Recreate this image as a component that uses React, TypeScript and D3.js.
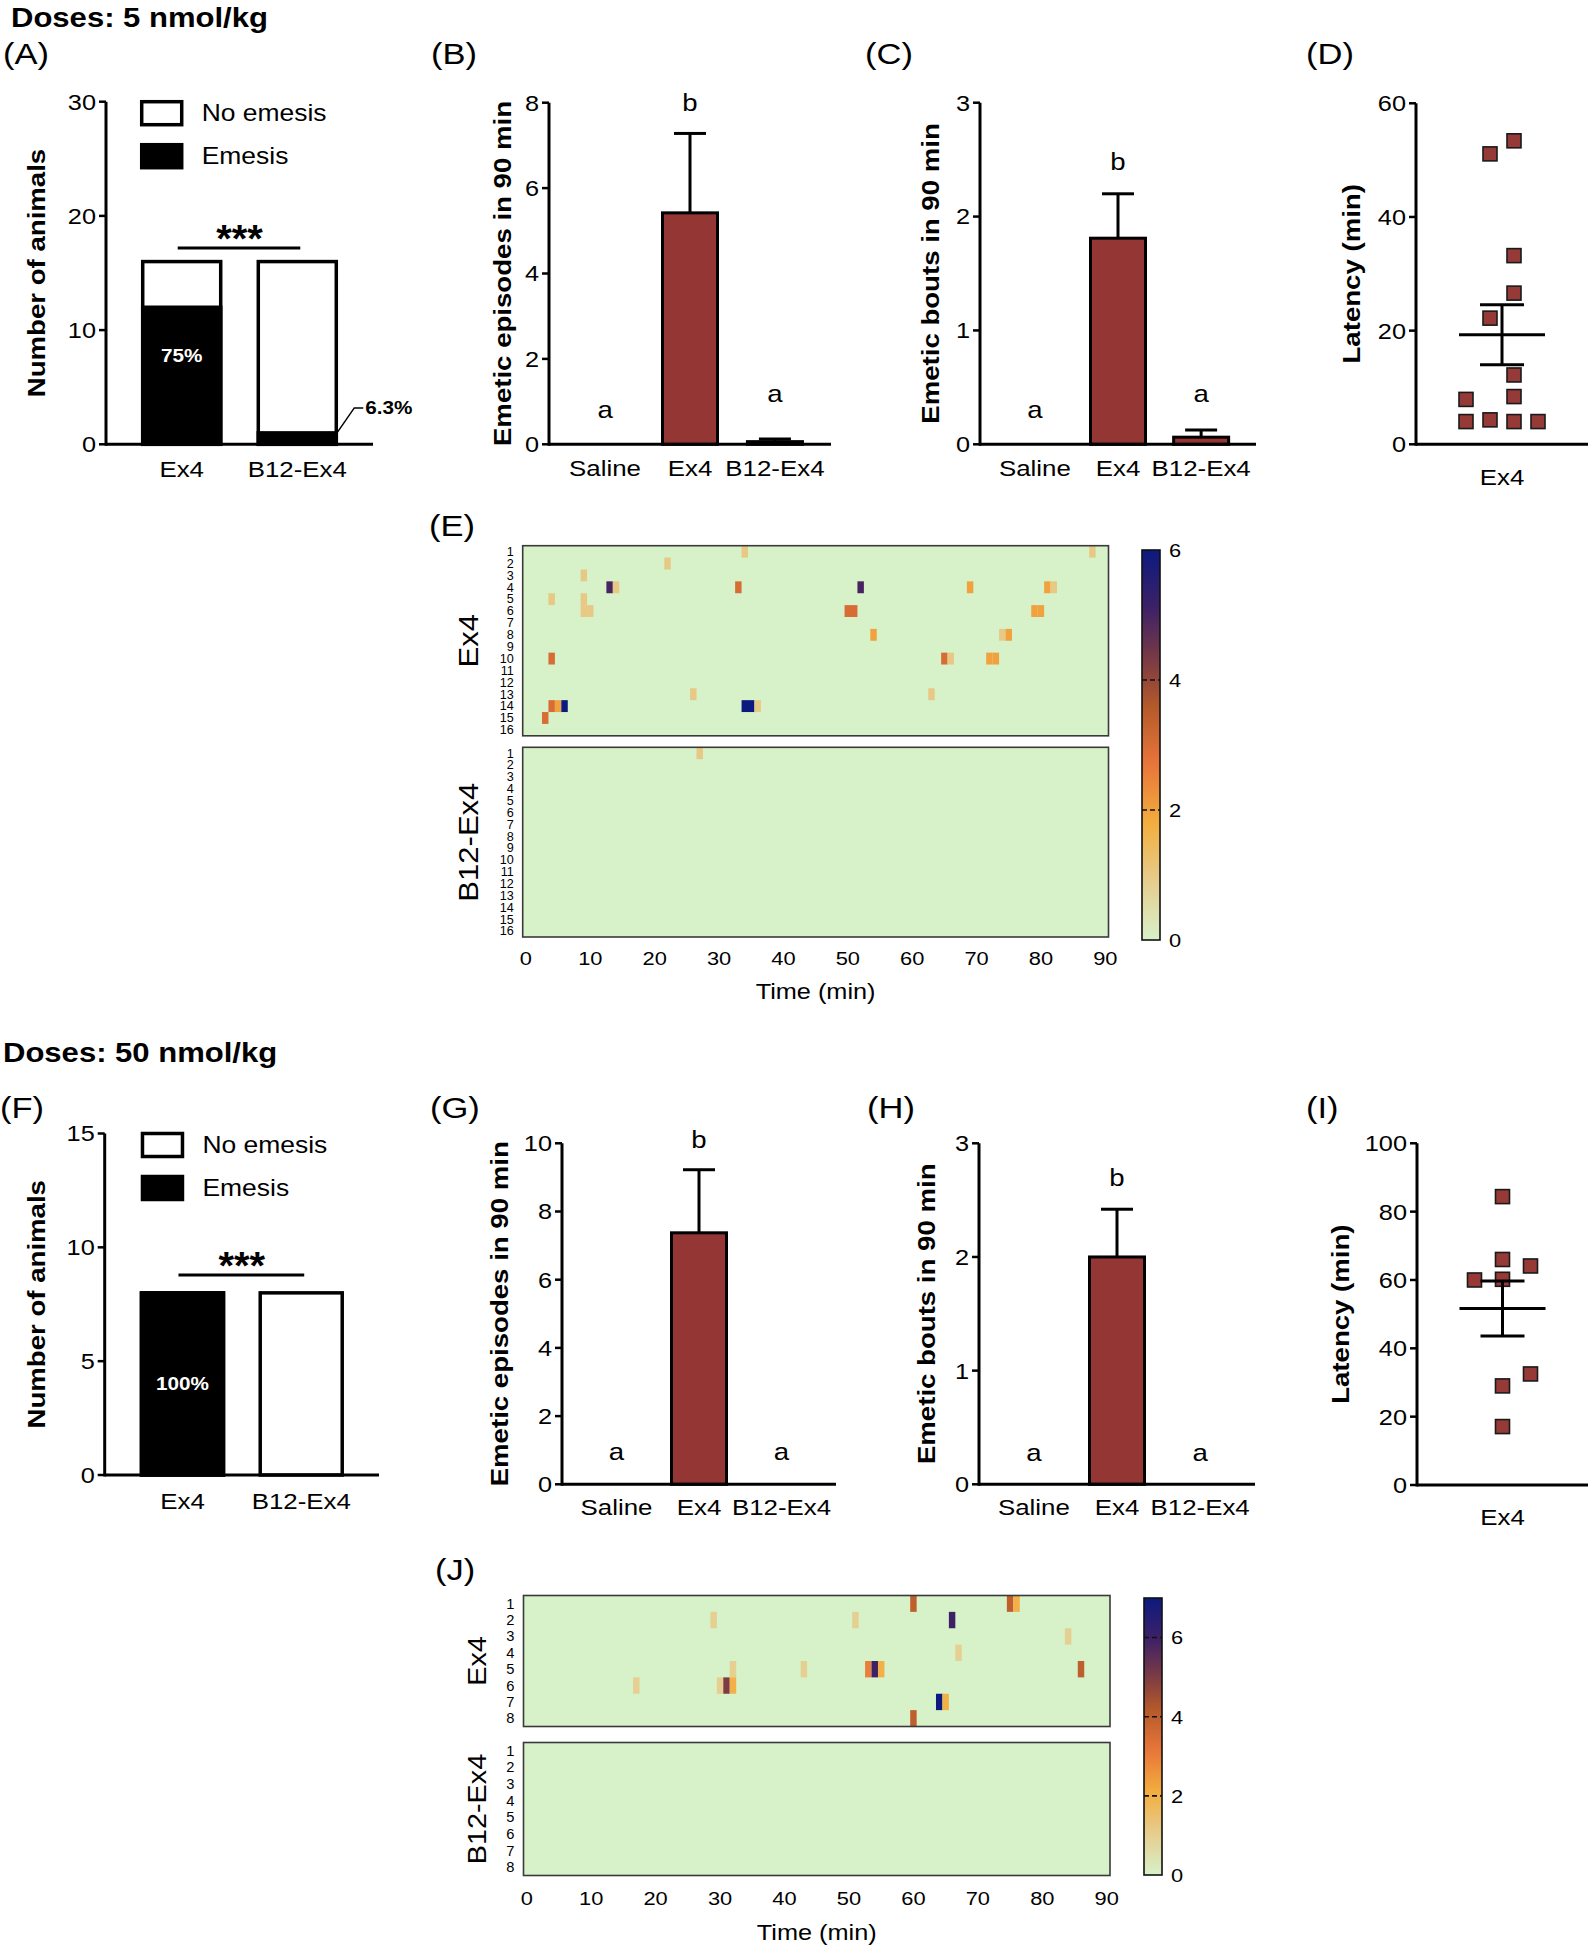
import React from "react";
import * as d3 from "d3";

const FONT = "'Liberation Sans', Arial, Helvetica, sans-serif";
const SX = 1.15;
const BAR = "#943634";

// ---------------- data ----------------
const outcomeGroups = ["Ex4", "B12-Ex4"];
const treatGroups = ["Saline", "Ex4", "B12-Ex4"];
const sigLetters = ["a", "b", "a"];

// 5 nmol/kg
const totalAnimals5 = [16, 16];
const emesisAnimals5 = [12, 1];
const emesisPct5 = ["75%", "6.3%"];
const episodes5 = [0, 5.42, 0.0625];
const episodes5Sem = [0, 1.86, 0.0625];
const episodes5LetterAt = [0.62, 7.8, 0.99];
const bouts5 = [0, 1.81, 0.0625];
const bouts5Sem = [0, 0.39, 0.0625];
const bouts5LetterAt = [0.23, 2.41, 0.37];
const latency5 = [51.1, 53.4, 33.2, 26.6, 22.2, 12.2, 8.4, 7.9, 4.0, 4.3, 4.0, 4.0];
const latency5Slot = [-0.5, 0.5, 0.5, 0.5, -0.5, 0.5, 0.5, -1.5, -1.5, -0.5, 0.5, 1.5];

// 50 nmol/kg
const totalAnimals50 = [8, 8];
const emesisAnimals50 = [8, 0];
const emesisPct50 = ["100%", ""];
const episodes50 = [0, 7.375, 0];
const episodes50Sem = [0, 1.85, 0];
const episodes50LetterAt = [0.71, 9.86, 0.71];
const bouts50 = [0, 2.0, 0];
const bouts50Sem = [0, 0.42, 0];
const bouts50LetterAt = [0.205, 2.62, 0.205];
const latency50 = [84.4, 66.0, 64.1, 60.0, 60.2, 32.5, 29.0, 17.1];
const latency50Slot = [0, 0, 1, -1, 0, 1, 0, 0];

// heatmap events: [animal, minute, episodes]
const heat5Ex4 = [
  [1, 34, 1], [1, 88, 1], [2, 22, 1], [3, 9, 1],
  [4, 13, 5], [4, 14, 1], [4, 33, 3], [4, 52, 5], [4, 69, 2], [4, 81, 2], [4, 82, 1],
  [5, 4, 1], [5, 9, 1],
  [6, 9, 1], [6, 10, 1], [6, 50, 3], [6, 51, 3], [6, 79, 2], [6, 80, 2],
  [8, 54, 2], [8, 74, 1], [8, 75, 2],
  [10, 4, 3], [10, 65, 3], [10, 66, 1], [10, 72, 2], [10, 73, 2],
  [13, 26, 1], [13, 63, 1],
  [14, 4, 3], [14, 5, 2], [14, 6, 6], [14, 34, 6], [14, 35, 6], [14, 36, 1],
  [15, 3, 3],
];
const heat5B12 = [[1, 27, 1]];
const heat50Ex4 = [
  [1, 60, 4], [1, 75, 4], [1, 76, 2],
  [2, 29, 1], [2, 51, 1], [2, 66, 6],
  [3, 84, 1], [4, 67, 1],
  [5, 32, 1], [5, 43, 1], [5, 53, 3], [5, 54, 6], [5, 55, 2], [5, 86, 4],
  [6, 17, 1], [6, 30, 1], [6, 31, 5], [6, 32, 2],
  [7, 64, 7], [7, 65, 2],
  [8, 60, 4],
];
const heat50B12: number[][] = [];
const timeTicks = [0, 10, 20, 30, 40, 50, 60, 70, 80, 90];

const cmapStops = [0, 0.15, 0.3, 0.45, 0.6, 0.72, 0.85, 1];
const cmapColors = ["#d7f1c9", "#e6cd8e", "#f3ad3e", "#e8763a", "#b4592a", "#7a3a44", "#3e2166", "#0c1a80"];
const cmap = d3.scaleLinear<string>().domain(cmapStops).range(cmapColors).interpolate(d3.interpolateRgb).clamp(true);

// ---------------- helpers ----------------
function T({ x, y, s, w, a, r, fill, children, dy, sx }: any) {
  const tr = `translate(${x},${y})` + (r ? ` rotate(${r})` : "") + ` scale(${sx ?? SX},1)`;
  return (
    <text transform={tr} fontSize={s} fontWeight={w ?? "normal"} textAnchor={a ?? "start"} fill={fill ?? "#000"} fontFamily={FONT} dy={dy}>
      {children}
    </text>
  );
}

function YAxis({ x, y, ticks, fs = 22 }: any) {
  const [r0, r1] = y.range();
  return (
    <g>
      <line x1={x} x2={x} y1={r0 + 1.5} y2={r1} stroke="#000" strokeWidth={3} />
      {ticks.map((t: number) => (
        <g key={t}>
          <line x1={x - 7} x2={x} y1={y(t)} y2={y(t)} stroke="#000" strokeWidth={2.5} />
          <T x={x - 10} y={y(t)} s={fs} a="end" dy="0.36em">{t}</T>
        </g>
      ))}
    </g>
  );
}

function YTitle({ cx, cy, text }: any) {
  return <T x={cx + 8.5} y={cy} s={24} w="bold" a="middle" r={-90}>{text}</T>;
}

function BarPanel({ axX, axEnd, y0, y1, max, ticks, means, sems, letterAt, title, titleX, labelBase }: any) {
  const y = d3.scaleLinear().domain([0, max]).range([y0, y1]);
  const x = d3.scalePoint<string>().domain(treatGroups).range([axX, axEnd]).padding(0.66);
  const bw = 55;
  return (
    <g>
      {treatGroups.map((g, i) => {
        const cx = x(g)!;
        const m = means[i];
        const e = sems[i];
        return (
          <g key={g}>
            {m > 0 && (
              <rect x={cx - bw / 2} y={y(m)} width={bw} height={y(0) - y(m)} fill={BAR} stroke="#000" strokeWidth={3} />
            )}
            {e > 0 && (
              <g stroke="#000" strokeWidth={3}>
                <line x1={cx} x2={cx} y1={y(m)} y2={y(m + e)} />
                <line x1={cx - 16} x2={cx + 16} y1={y(m + e)} y2={y(m + e)} />
              </g>
            )}
            <T x={cx} y={y(letterAt[i])} s={24} a="middle">{sigLetters[i]}</T>
            <T x={cx} y={labelBase} s={22.5} a="middle">{g}</T>
          </g>
        );
      })}
      <line x1={axX} x2={axEnd} y1={y0} y2={y0} stroke="#000" strokeWidth={3} />
      <YAxis x={axX} y={y} ticks={ticks} />
      <YTitle cx={titleX} cy={(y0 + y1) / 2} text={title} />
    </g>
  );
}

function StackPanel({ axX, axEnd, y0, y1, max, ticks, total, emesis, pct, bw, pctAt, sigVal, labelBase, titleX }: any) {
  const y = d3.scaleLinear().domain([0, max]).range([y0, y1]);
  const x = d3.scalePoint<string>().domain(outcomeGroups).range([axX, axEnd]).padding(0.655);
  const c0 = x(outcomeGroups[0])!;
  const c1 = x(outcomeGroups[1])!;
  const legTop = y(max);
  return (
    <g>
      {outcomeGroups.map((g, i) => {
        const cx = x(g)!;
        return (
          <g key={g}>
            <rect x={cx - bw / 2} y={y(total[i])} width={bw} height={y(0) - y(total[i])} fill="#fff" stroke="#000" strokeWidth={3.5} />
            {emesis[i] > 0 && (
              <rect x={cx - bw / 2} y={y(emesis[i])} width={bw} height={y(0) - y(emesis[i])} fill="#000" stroke="#000" strokeWidth={3.5} />
            )}
            <T x={cx} y={labelBase} s={22.5} a="middle">{g}</T>
          </g>
        );
      })}
      {pct[0] && (
        <T x={c0} y={y(emesis[0] * pctAt)} s={18} w="bold" a="middle" fill="#fff" dy="0.36em">{pct[0]}</T>
      )}
      {pct[1] && (
        <g>
          <polyline
            points={`${c1 + bw / 2},${y(emesis[1]) + 1} ${c1 + bw / 2 + 18},${y(emesis[1]) - 25} ${c1 + bw / 2 + 27},${y(emesis[1]) - 25}`}
            fill="none" stroke="#000" strokeWidth={1.5}
          />
          <T x={c1 + bw / 2 + 29} y={y(emesis[1]) - 25} s={18} w="bold" dy="0.36em">{pct[1]}</T>
        </g>
      )}
      <line x1={c0 - 4} x2={c1 + 3} y1={y(sigVal)} y2={y(sigVal)} stroke="#000" strokeWidth={3} />
      <T x={(c0 + c1) / 2} y={y(sigVal) + 4} s={38} w="bold" a="middle" sx={1.05}>***</T>
      {/* legend */}
      <rect x={c0 - 40} y={legTop} width={40} height={23} fill="#fff" stroke="#000" strokeWidth={3.5} />
      <T x={c0 + 20} y={legTop + 11.5} s={23} dy="0.36em">No emesis</T>
      <rect x={c0 - 40} y={legTop + 43} width={40} height={23} fill="#000" stroke="#000" strokeWidth={3.5} />
      <T x={c0 + 20} y={legTop + 54.5} s={23} dy="0.36em">Emesis</T>
      <line x1={axX} x2={axEnd} y1={y0} y2={y0} stroke="#000" strokeWidth={3} />
      <YAxis x={axX} y={y} ticks={ticks} />
      <YTitle cx={titleX} cy={(y0 + y1) / 2} text="Number of animals" />
    </g>
  );
}

function DotPanel({ axX, axEnd, y0, y1, max, ticks, values, slots, slotW, labelBase, titleX }: any) {
  const y = d3.scaleLinear().domain([0, max]).range([y0, y1]);
  const x = d3.scalePoint<string>().domain(["Ex4"]).range([axX, axEnd]).padding(0.5);
  const cx = x("Ex4")!;
  const jit = d3.scaleLinear().domain([-1, 1]).range([cx - slotW, cx + slotW]);
  const mean = d3.mean(values) as number;
  const sem = (d3.deviation(values) as number) / Math.sqrt(values.length);
  const sq = 14;
  return (
    <g>
      {values.map((v: number, i: number) => (
        <rect key={i} x={jit(slots[i]) - sq / 2} y={y(v) - sq / 2} width={sq} height={sq} fill="#963a37" stroke="#1a1a1a" strokeWidth={1.6} />
      ))}
      <g stroke="#000" strokeWidth={3}>
        <line x1={cx - 43} x2={cx + 43} y1={y(mean)} y2={y(mean)} />
        <line x1={cx} x2={cx} y1={y(mean - sem)} y2={y(mean + sem)} />
        <line x1={cx - 22} x2={cx + 22} y1={y(mean - sem)} y2={y(mean - sem)} />
        <line x1={cx - 22} x2={cx + 22} y1={y(mean + sem)} y2={y(mean + sem)} />
      </g>
      <line x1={axX} x2={axEnd} y1={y0} y2={y0} stroke="#000" strokeWidth={3} />
      <YAxis x={axX} y={y} ticks={ticks} />
      <T x={cx} y={labelBase} s={22.5} a="middle">Ex4</T>
      <YTitle cx={titleX} cy={(y0 + y1) / 2} text="Latency (min)" />
    </g>
  );
}

function Heatmap({ id, left, right, blocks, vmax, cbX, cbTop, cbBottom, cbTicks, tickY, titleY, groupX, rowFs, groupFs }: any) {
  const x = d3.scaleLinear().domain([-0.5, 90.5]).range([left, right]);
  const cb = d3.scaleLinear().domain([0, vmax]).range([cbBottom, cbTop]);
  const gradStops = d3.range(0, 1.0001, 0.05);
  return (
    <g>
      {blocks.map((b: any) => {
        const rows = d3.range(1, b.n + 1);
        const y = d3.scaleBand<number>().domain(rows).range([b.top, b.bottom]);
        return (
          <g key={b.name}>
            <rect x={left} y={b.top} width={right - left} height={b.bottom - b.top} fill={cmap(0)} />
            {b.events.map((ev: number[], i: number) => (
              <rect key={i} x={x(ev[1] - 0.5)} y={y(ev[0])!} width={x(ev[1] + 0.5) - x(ev[1] - 0.5)} height={y.bandwidth()} fill={cmap(ev[2] / vmax)} />
            ))}
            <rect x={left} y={b.top} width={right - left} height={b.bottom - b.top} fill="none" stroke="#3a3a3a" strokeWidth={1.6} />
            {rows.map((r) => (
              <T key={r} x={left - 9} y={y(r)! + y.bandwidth() / 2} s={rowFs} a="end" dy="0.36em" sx={1.05}>{r}</T>
            ))}
            <T x={groupX} y={(b.top + b.bottom) / 2} s={groupFs} a="middle" r={-90}>{b.name}</T>
          </g>
        );
      })}
      {timeTicks.map((t) => (
        <T key={t} x={x(t)} y={tickY} s={19} a="middle" dy="0.36em">{t}</T>
      ))}
      <T x={x(45)} y={titleY} s={22} a="middle" dy="0.36em">Time (min)</T>
      <defs>
        <linearGradient id={id} x1="0" y1="1" x2="0" y2="0">
          {gradStops.map((t) => (
            <stop key={t} offset={t} stopColor={cmap(t)} />
          ))}
        </linearGradient>
      </defs>
      <rect x={cbX} y={cbTop} width={18} height={cbBottom - cbTop} fill={`url(#${id})`} stroke="#111" strokeWidth={1.6} />
      {cbTicks.map((t: number) => (
        <g key={t}>
          {t > 0 && t < vmax && (
            <line x1={cbX} x2={cbX + 18} y1={cb(t)} y2={cb(t)} stroke="#111" strokeWidth={1.6} strokeDasharray="5,3" />
          )}
          <T x={cbX + 27} y={cb(t)} s={19} dy="0.36em">{t}</T>
        </g>
      ))}
    </g>
  );
}

export default function App() {
  return (
    <svg width={1593} height={1950} style={{ position: "absolute", left: 0, top: 0, background: "#fff" }}>
      <rect x={0} y={0} width={1593} height={1950} fill="#fff" />
      {/* ---------- 5 nmol/kg ---------- */}
      <T x={11} y={27} s={27} w="bold">Doses: 5 nmol/kg</T>
      <T x={3} y={64} s={30}>(A)</T>
      <T x={431} y={64} s={30}>(B)</T>
      <T x={865} y={64} s={30}>(C)</T>
      <T x={1306} y={64} s={30}>(D)</T>
      <StackPanel axX={106} axEnd={373} y0={444.3} y1={101.7} max={30} ticks={[0, 10, 20, 30]}
        total={totalAnimals5} emesis={emesisAnimals5} pct={emesisPct5} bw={78} pctAt={0.65} sigVal={17.2}
        labelBase={477} titleX={36.5} />
      <BarPanel axX={549} axEnd={831} y0={444.3} y1={102.7} max={8} ticks={[0, 2, 4, 6, 8]}
        means={episodes5} sems={episodes5Sem} letterAt={episodes5LetterAt} title="Emetic episodes in 90 min" titleX={502.5} labelBase={476} />
      <BarPanel axX={980} axEnd={1256} y0={444.3} y1={102.7} max={3} ticks={[0, 1, 2, 3]}
        means={bouts5} sems={bouts5Sem} letterAt={bouts5LetterAt} title="Emetic bouts in 90 min" titleX={930} labelBase={476} />
      <DotPanel axX={1416} axEnd={1588} y0={444.3} y1={103.3} max={60} ticks={[0, 20, 40, 60]}
        values={latency5} slots={latency5Slot} slotW={24} labelBase={485} titleX={1351.5} />

      <T x={429} y={536} s={30}>(E)</T>
      <Heatmap id="cbE" left={522.7} right={1108.5} vmax={6} cbX={1142} cbTop={550} cbBottom={940}
        cbTicks={[0, 2, 4, 6]} tickY={958} titleY={991} groupX={478} rowFs={12} groupFs={27}
        blocks={[
          { name: "Ex4", n: 16, events: heat5Ex4, top: 545.7, bottom: 735.8 },
          { name: "B12-Ex4", n: 16, events: heat5B12, top: 747.3, bottom: 937 },
        ]} />

      {/* ---------- 50 nmol/kg ---------- */}
      <T x={3} y={1062} s={27} w="bold">Doses: 50 nmol/kg</T>
      <T x={0} y={1118} s={30}>(F)</T>
      <T x={430} y={1118} s={30}>(G)</T>
      <T x={867} y={1118} s={30}>(H)</T>
      <T x={1306} y={1118} s={30}>(I)</T>
      <StackPanel axX={104.7} axEnd={379} y0={1475} y1={1133.5} max={15} ticks={[0, 5, 10, 15]}
        total={totalAnimals50} emesis={emesisAnimals50} pct={emesisPct50} bw={82} pctAt={0.5} sigVal={8.78}
        labelBase={1509} titleX={36} />
      <BarPanel axX={562} axEnd={836} y0={1484.3} y1={1143.3} max={10} ticks={[0, 2, 4, 6, 8, 10]}
        means={episodes50} sems={episodes50Sem} letterAt={episodes50LetterAt} title="Emetic episodes in 90 min" titleX={499} labelBase={1515} />
      <BarPanel axX={979} axEnd={1255} y0={1484.3} y1={1143.3} max={3} ticks={[0, 1, 2, 3]}
        means={bouts50} sems={bouts50Sem} letterAt={bouts50LetterAt} title="Emetic bouts in 90 min" titleX={926.7} labelBase={1515} />
      <DotPanel axX={1417} axEnd={1588} y0={1485} y1={1143.3} max={100} ticks={[0, 20, 40, 60, 80, 100]}
        values={latency50} slots={latency50Slot} slotW={28} labelBase={1525} titleX={1340} />

      <T x={435} y={1580} s={30}>(J)</T>
      <Heatmap id="cbJ" left={523.5} right={1110} vmax={7} cbX={1144} cbTop={1598} cbBottom={1875}
        cbTicks={[0, 2, 4, 6]} tickY={1898} titleY={1932} groupX={486} rowFs={14} groupFs={25}
        blocks={[
          { name: "Ex4", n: 8, events: heat50Ex4, top: 1595.5, bottom: 1726.5 },
          { name: "B12-Ex4", n: 8, events: heat50B12, top: 1742.5, bottom: 1875.5 },
        ]} />
    </svg>
  );
}
